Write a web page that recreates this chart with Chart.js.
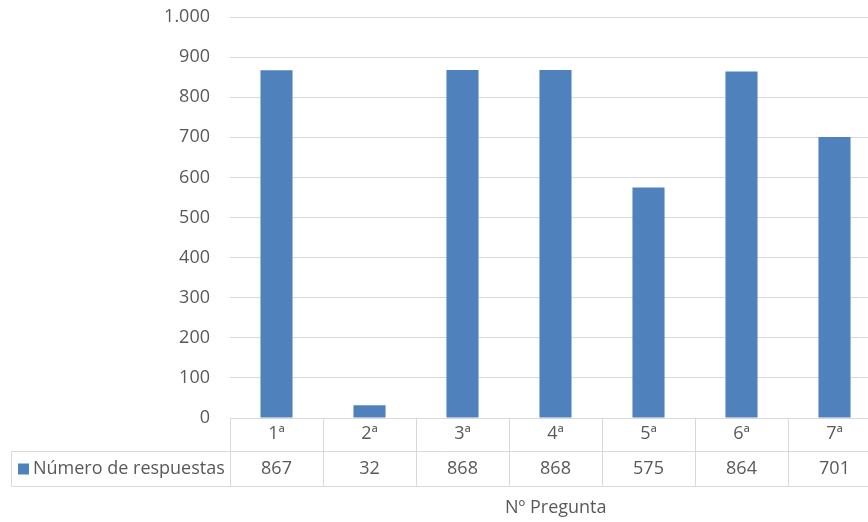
<!DOCTYPE html>
<html>
<head>
<meta charset="utf-8">
<script src="https://cdn.jsdelivr.net/npm/chart.js@4"></script>
<style>
  html, body { margin: 0; padding: 0; overflow: hidden; background: #ffffff; }
  #wrap { position: absolute; left: 0; top: 0; width: 884px; height: 522px; }
</style>
</head>
<body>
<div id="wrap"><canvas id="chart"></canvas></div>
<script>
// Number of answers per question
const categories = ['1ª', '2ª', '3ª', '4ª', '5ª', '6ª', '7ª'];
const seriesName = 'Número de respuestas';
const respuestas = [867, 32, 868, 868, 575, 864, 701];
const yTickValues = [0, 100, 200, 300, 400, 500, 600, 700, 800, 900, 1000];
const axisTitle = 'Nº Pregunta';

const BAR_COLOR = '#4F81BD';
const TEXT_COLOR = '#595959';
const LINE_COLOR = '#D9D9D9';
const FONT_FAMILY = '"Open Sans", "Liberation Sans", sans-serif';
const FONT_SIZE = 18;

// thousands separator with a dot: 1000 -> "1.000"
function fmtNumber(v) {
  return String(v).replace(/\B(?=(\d{3})+(?!\d))/g, '.');
}

const ROW1_H = 33;   // category row of the data table
const ROW2_H = 35;   // value row of the data table
const TABLE_LEFT = 11;
const PLOT_TOP = 17;
const PLOT_BOTTOM = 418;

// Draws the data table under the plot: grid, legend key, values and axis title
const dataTablePlugin = {
  id: 'dataTable',
  afterDraw(chart) {
    const { ctx, chartArea: a, scales: { x } } = chart;
    const step = x.getPixelForValue(1) - x.getPixelForValue(0);
    const top = Math.round(a.bottom) + 0.5;
    const mid = top + ROW1_H;
    const bot = mid + ROW2_H;
    const right = Math.round(x.getPixelForValue(categories.length - 1) + step / 2) + 0.5;
    const left = Math.round(a.left) + 0.5;

    ctx.save();
    ctx.strokeStyle = LINE_COLOR;
    ctx.lineWidth = 1;
    ctx.beginPath();
    // row separators
    ctx.moveTo(TABLE_LEFT + 0.5, mid); ctx.lineTo(right, mid);
    ctx.moveTo(TABLE_LEFT + 0.5, bot); ctx.lineTo(right, bot);
    // outer left border of the legend cell
    ctx.moveTo(TABLE_LEFT + 0.5, mid); ctx.lineTo(TABLE_LEFT + 0.5, bot);
    // column boundaries
    for (let i = 0; i <= categories.length; i++) {
      const px = Math.round(x.getPixelForValue(i) - step / 2) + 0.5;
      ctx.moveTo(px, top); ctx.lineTo(px, bot);
    }
    ctx.moveTo(left, top); ctx.lineTo(left, bot);
    ctx.stroke();

    // legend key and series name
    ctx.fillStyle = BAR_COLOR;
    ctx.fillRect(18, mid + 12, 11, 11);
    ctx.fillStyle = TEXT_COLOR;
    ctx.font = FONT_SIZE + 'px ' + FONT_FAMILY;
    ctx.textBaseline = 'middle';
    ctx.textAlign = 'left';
    ctx.fillText(seriesName, 33, mid + ROW2_H / 2);

    // values row
    ctx.textAlign = 'center';
    respuestas.forEach((v, i) => {
      ctx.fillText(fmtNumber(v), x.getPixelForValue(i), mid + ROW2_H / 2);
    });

    // axis title
    ctx.fillText(axisTitle, (a.left + right) / 2, bot + 21);
    ctx.restore();
  }
};

new Chart(document.getElementById('chart'), {
  type: 'bar',
  data: {
    labels: categories,
    datasets: [{
      label: seriesName,
      data: respuestas,
      backgroundColor: BAR_COLOR,
      borderWidth: 0,
      categoryPercentage: 1.0,
      barPercentage: 0.345
    }]
  },
  options: {
    responsive: true,
    maintainAspectRatio: false,
    animation: false,
    devicePixelRatio: 1,
    layout: { padding: { top: PLOT_TOP, right: 3, bottom: 522 - PLOT_BOTTOM - ROW1_H, left: 0 } },
    plugins: {
      legend: { display: false },
      tooltip: { enabled: false }
    },
    scales: {
      x: {
        grid: { display: false, drawTicks: false },
        border: { display: true, color: LINE_COLOR, width: 1 },
        ticks: {
          color: TEXT_COLOR,
          font: { family: FONT_FAMILY, size: FONT_SIZE },
          padding: 5,
          maxRotation: 0
        },
        afterFit(scale) { scale.height = ROW1_H; }
      },
      y: {
        min: 0,
        max: 1000,
        afterBuildTicks(scale) { scale.ticks = yTickValues.map(v => ({ value: v })); },
        grid: { color: LINE_COLOR, drawTicks: false, lineWidth: 1 },
        border: { display: false },
        ticks: {
          color: TEXT_COLOR,
          font: { family: FONT_FAMILY, size: FONT_SIZE },
          padding: 20,
          callback: v => fmtNumber(v)
        },
        afterFit(scale) {
          scale.width = 230;
          // keep the label gap horizontal only
          scale.paddingTop = 10;
          scale.paddingBottom = 10;
        }
      }
    }
  },
  plugins: [dataTablePlugin]
});
</script>
</body>
</html>
